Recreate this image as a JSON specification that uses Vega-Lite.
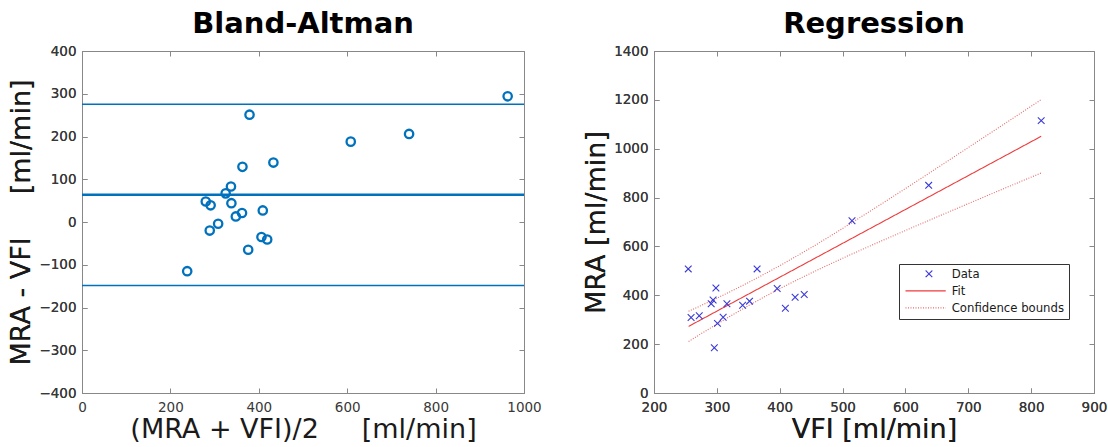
{
  "$schema": "https://vega.github.io/schema/vega-lite/v6.json",
  "autosize": {"type": "none"},
  "padding": {"left": 82, "top": 51, "right": 1026, "bottom": 396},
  "background": "white",
  "bounds": "flush",
  "spacing": 130,
  "config": {
    "font": "DejaVu Sans",
    "view": {"stroke": "#888888", "strokeWidth": 1},
    "axis": {
      "labelFont": "DejaVu Sans", "labelFontSize": 13.5, "labelColor": "#383838",
      "titleFont": "DejaVu Sans", "titleFontSize": 27, "titleFontWeight": "normal", "titleColor": "#1a1a1a",
      "domainColor": "#888888", "tickColor": "#888888", "tickSize": -5, "grid": false,
      "labelFlush": false, "labelOverlap": false, "format": "d"
    },
    "axisX": {"labelPadding": 12},
    "axisY": {"labelPadding": 11},
    "legend": {
      "orient": "none", "legendX": 817, "legendY": 213,
      "labelFont": "DejaVu Sans", "labelFontSize": 11.7, "labelColor": "#1a1a1a",
      "strokeColor": "#333333", "fillColor": "white", "padding": 4, "rowPadding": 4,
      "labelOffset": 37, "symbolSize": 45, "symbolStrokeWidth": 1.1, "cornerRadius": 0, "labelLimit": 300
    },
    "title": {"font": "DejaVu Sans", "fontSize": 29, "fontWeight": "bold", "color": "#000000", "offset": 5, "anchor": "middle"}
  },
  "hconcat": [
    {
      "width": 442, "height": 342,
      "title": "Bland-Altman",
      "layer": [
        {
          "data": {"name": "ba", "values": [
            {"mean": 963, "diff": 294}, {"mean": 379, "diff": 251}, {"mean": 740, "diff": 206},
            {"mean": 608, "diff": 188}, {"mean": 433, "diff": 139}, {"mean": 363, "diff": 129},
            {"mean": 337, "diff": 83}, {"mean": 325, "diff": 67}, {"mean": 280, "diff": 48},
            {"mean": 291, "diff": 39}, {"mean": 338, "diff": 44}, {"mean": 362, "diff": 21},
            {"mean": 348, "diff": 13}, {"mean": 409, "diff": 27}, {"mean": 308, "diff": -4},
            {"mean": 289, "diff": -20}, {"mean": 406, "diff": -35}, {"mean": 419, "diff": -41},
            {"mean": 376, "diff": -65}, {"mean": 238, "diff": -115}
          ]},
          "mark": {"type": "point", "filled": false, "shape": "circle", "size": 70, "strokeWidth": 2.3, "color": "#0072BD", "opacity": 1},
          "encoding": {
            "x": {"field": "mean", "type": "quantitative", "scale": {"domain": [0, 1000], "nice": false, "zero": false},
                  "axis": {"orient": "bottom", "values": [0, 200, 400, 600, 800, 1000], "title": "(MRA + VFI)/2\u00a0\u00a0\u00a0\u00a0\u00a0[ml/min]", "titlePadding": 3}},
            "y": {"field": "diff", "type": "quantitative", "scale": {"domain": [-400, 400], "nice": false, "zero": false},
                  "axis": {"orient": "left", "values": [-400, -300, -200, -100, 0, 100, 200, 300, 400], "title": "MRA - VFI\u00a0\u00a0\u00a0\u00a0\u00a0[ml/min]", "titlePadding": 3}}
          }
        },
        {
          "data": {"values": [
            {"value": 63.8, "line": "mean"}, {"value": 275.5, "line": "limit"}, {"value": -148.6, "line": "limit"}
          ]},
          "mark": {"type": "rule", "color": "#0072BD"},
          "encoding": {
            "y": {"field": "value", "type": "quantitative", "axis": {"orient": "left", "values": [-400, -300, -200, -100, 0, 100, 200, 300, 400], "title": "MRA - VFI\u00a0\u00a0\u00a0\u00a0\u00a0[ml/min]", "titlePadding": 3}},
            "strokeWidth": {"field": "line", "type": "nominal", "scale": {"type": "ordinal", "domain": ["mean", "limit"], "range": [2.6, 1.6]}, "legend": null}
          }
        },
        {
          "data": {"name": "ba"},
          "mark": {"type": "point", "opacity": 0},
          "encoding": {
            "x": {"field": "mean", "type": "quantitative", "axis": {"orient": "top", "values": [0, 200, 400, 600, 800, 1000], "labels": false, "title": null, "domain": false}},
            "y": {"field": "diff", "type": "quantitative", "axis": {"orient": "right", "values": [-400, -300, -200, -100, 0, 100, 200, 300, 400], "labels": false, "title": null, "domain": false}}
          }
        }
      ]
    },
    {
      "width": 440, "height": 342,
      "title": "Regression",
      "layer": [
        {
          "data": {"values": [
            {"vfi": 816, "value": 1050.8, "series": "Fit", "curve": "fit"},
            {"vfi": 255, "value": 272.7, "series": "Fit", "curve": "fit"},
            {"vfi": 255, "value": 334.5, "series": "Confidence bounds", "curve": "upper"},
            {"vfi": 300, "value": 388.3, "series": "Confidence bounds", "curve": "upper"},
            {"vfi": 350, "value": 452.1, "series": "Confidence bounds", "curve": "upper"},
            {"vfi": 400, "value": 521.1, "series": "Confidence bounds", "curve": "upper"},
            {"vfi": 450, "value": 595.0, "series": "Confidence bounds", "curve": "upper"},
            {"vfi": 500, "value": 673.6, "series": "Confidence bounds", "curve": "upper"},
            {"vfi": 600, "value": 836.9, "series": "Confidence bounds", "curve": "upper"},
            {"vfi": 700, "value": 1004.8, "series": "Confidence bounds", "curve": "upper"},
            {"vfi": 816, "value": 1200.8, "series": "Confidence bounds", "curve": "upper"},
            {"vfi": 255, "value": 210.9, "series": "Confidence bounds", "curve": "lower"},
            {"vfi": 300, "value": 281.7, "series": "Confidence bounds", "curve": "lower"},
            {"vfi": 350, "value": 356.9, "series": "Confidence bounds", "curve": "lower"},
            {"vfi": 400, "value": 426.9, "series": "Confidence bounds", "curve": "lower"},
            {"vfi": 450, "value": 491.0, "series": "Confidence bounds", "curve": "lower"},
            {"vfi": 500, "value": 551.4, "series": "Confidence bounds", "curve": "lower"},
            {"vfi": 600, "value": 665.1, "series": "Confidence bounds", "curve": "lower"},
            {"vfi": 700, "value": 775.2, "series": "Confidence bounds", "curve": "lower"},
            {"vfi": 816, "value": 900.8, "series": "Confidence bounds", "curve": "lower"}
          ]},
          "mark": {"type": "line", "strokeWidth": 1.1, "interpolate": "monotone"},
          "encoding": {
            "x": {"field": "vfi", "type": "quantitative", "scale": {"domain": [200, 900], "nice": false, "zero": false},
                  "axis": {"orient": "bottom", "values": [200, 300, 400, 500, 600, 700, 800, 900], "title": "VFI [ml/min]", "titlePadding": 3}},
            "y": {"field": "value", "type": "quantitative", "scale": {"domain": [0, 1400], "nice": false, "zero": false},
                  "axis": {"orient": "left", "values": [0, 200, 400, 600, 800, 1000, 1200, 1400], "title": "MRA [ml/min]", "titlePadding": 3}},
            "detail": {"field": "curve", "type": "nominal"},
            "color": {"field": "series", "type": "nominal", "scale": {"domain": ["Data", "Fit", "Confidence bounds"], "range": ["#3a3ad8", "#ee3b3b", "#e86a6a"]},
                      "legend": {"title": null, "encode": {"symbols": {"update": {
                        "shape": {"signal": "datum.value === 'Data' ? 'M5,-1L7,1M5,1L7,-1' : 'M-1,0L11,0'"},
                        "size": {"value": 45},
                        "fill": {"value": "transparent"}}}}}},
            "strokeDash": {"field": "series", "type": "nominal", "scale": {"domain": ["Data", "Fit", "Confidence bounds"], "range": [[1, 0], [1, 0], [1, 1.5]]}, "legend": {"title": null}}
          }
        },
        {
          "data": {"values": [
            {"vfi": 254.5, "mra": 508, "series": "Data"}, {"vfi": 259, "mra": 309, "series": "Data"},
            {"vfi": 272, "mra": 316, "series": "Data"}, {"vfi": 291, "mra": 365, "series": "Data"},
            {"vfi": 294, "mra": 381, "series": "Data"}, {"vfi": 298.5, "mra": 430, "series": "Data"},
            {"vfi": 296, "mra": 185, "series": "Data"}, {"vfi": 301, "mra": 285, "series": "Data"},
            {"vfi": 310, "mra": 310, "series": "Data"}, {"vfi": 316, "mra": 365, "series": "Data"},
            {"vfi": 341, "mra": 359, "series": "Data"}, {"vfi": 352, "mra": 376, "series": "Data"},
            {"vfi": 364, "mra": 508, "series": "Data"}, {"vfi": 396, "mra": 428, "series": "Data"},
            {"vfi": 409, "mra": 347, "series": "Data"}, {"vfi": 424.5, "mra": 392, "series": "Data"},
            {"vfi": 439, "mra": 403, "series": "Data"}, {"vfi": 515, "mra": 705, "series": "Data"},
            {"vfi": 637, "mra": 850, "series": "Data"}, {"vfi": 816, "mra": 1115, "series": "Data"}
          ]},
          "mark": {"type": "point", "filled": false, "shape": "M-1,-1L1,1M-1,1L1,-1", "size": 45, "strokeWidth": 1.1, "opacity": 1},
          "encoding": {
            "x": {"field": "vfi", "type": "quantitative", "axis": {"orient": "bottom", "values": [200, 300, 400, 500, 600, 700, 800, 900], "title": "VFI [ml/min]", "titlePadding": 3}},
            "y": {"field": "mra", "type": "quantitative", "axis": {"orient": "left", "values": [0, 200, 400, 600, 800, 1000, 1200, 1400], "title": "MRA [ml/min]", "titlePadding": 3}},
            "color": {"field": "series", "type": "nominal", "legend": {"title": null}}
          }
        },
        {
          "data": {"values": [
            {"vfi": 200, "mra": 0}, {"vfi": 900, "mra": 1400}
          ]},
          "mark": {"type": "point", "opacity": 0},
          "encoding": {
            "x": {"field": "vfi", "type": "quantitative", "axis": {"orient": "top", "values": [200, 300, 400, 500, 600, 700, 800, 900], "labels": false, "title": null, "domain": false}},
            "y": {"field": "mra", "type": "quantitative", "axis": {"orient": "right", "values": [0, 200, 400, 600, 800, 1000, 1200, 1400], "labels": false, "title": null, "domain": false}}
          }
        }
      ]
    }
  ]
}
